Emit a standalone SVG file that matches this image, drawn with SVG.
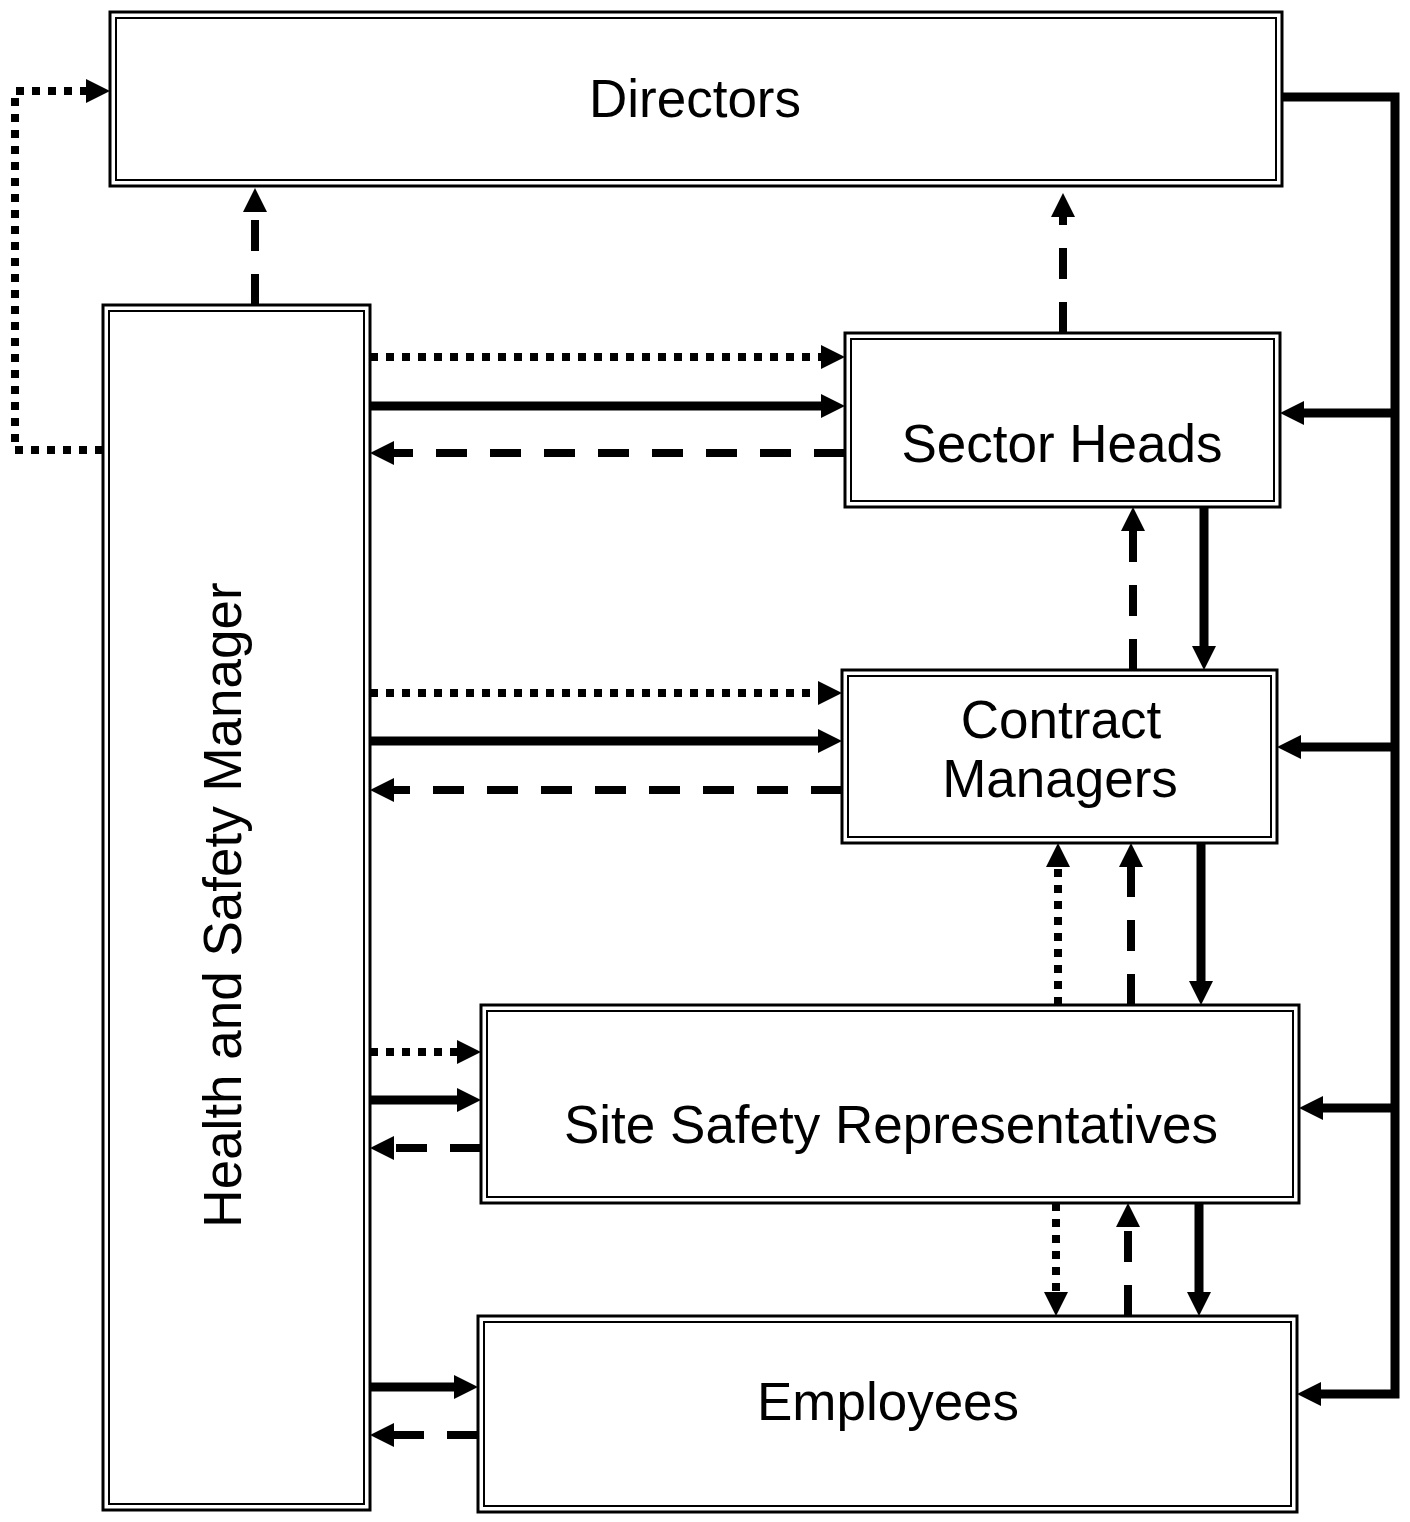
<svg xmlns="http://www.w3.org/2000/svg" width="1410" height="1522" viewBox="0 0 1410 1522">
<style>
.outer{fill:#fff;stroke:#000;stroke-width:3}
.inner{fill:none;stroke:#000;stroke-width:2}
.lbl{font-family:"Liberation Sans",Arial,sans-serif;font-size:53px;fill:#000;text-anchor:middle}
.c{fill:none;stroke:#000}
.solid{stroke-width:9}
.dash{stroke-width:8;stroke-dasharray:31 23}
.dot{stroke-width:8;stroke-dasharray:8 8}
</style>
<defs>
<marker id="ah" viewBox="0 0 24 24" refX="0" refY="12" markerWidth="24" markerHeight="24" markerUnits="userSpaceOnUse" orient="auto">
<path d="M0,0 L24,12 L0,24 Z" fill="#000"/>
</marker>
</defs>
<rect width="1410" height="1522" fill="#fff"/>
<g id="connectors">
<path class="c solid" stroke-linejoin="miter" d="M1282,97 H1395 V1394 H1321" marker-end="url(#ah)"/>
<path class="c solid" d="M1395,413 H1304" marker-end="url(#ah)"/>
<path class="c solid" d="M1395,747 H1301" marker-end="url(#ah)"/>
<path class="c solid" d="M1395,1108 H1323" marker-end="url(#ah)"/>
<path class="c dot" d="M103,450 H15 V91 H86" marker-end="url(#ah)"/>
<path class="c dash" d="M255,305 V212" marker-end="url(#ah)"/>
<path class="c dash" d="M1063,333 V217" marker-end="url(#ah)"/>
<path class="c dash" d="M1133,670 V531" marker-end="url(#ah)"/>
<path class="c solid" d="M1204,507 V646" marker-end="url(#ah)"/>
<path class="c dot" d="M1058,1005 V867" marker-end="url(#ah)"/>
<path class="c dash" d="M1131,1005 V867" marker-end="url(#ah)"/>
<path class="c solid" d="M1201,843 V981" marker-end="url(#ah)"/>
<path class="c dot" d="M1056,1203 V1292" marker-end="url(#ah)"/>
<path class="c dash" d="M1128,1316 V1227" marker-end="url(#ah)"/>
<path class="c solid" d="M1199,1203 V1292" marker-end="url(#ah)"/>
<path class="c dot" d="M370,357 H821" marker-end="url(#ah)"/>
<path class="c solid" d="M370,406 H821" marker-end="url(#ah)"/>
<path class="c dash" d="M845,453 H394" marker-end="url(#ah)"/>
<path class="c dot" d="M370,693 H818" marker-end="url(#ah)"/>
<path class="c solid" d="M370,741 H818" marker-end="url(#ah)"/>
<path class="c dash" d="M842,790 H394" marker-end="url(#ah)"/>
<path class="c dot" d="M370,1052 H457" marker-end="url(#ah)"/>
<path class="c solid" d="M370,1100 H457" marker-end="url(#ah)"/>
<path class="c dash" d="M481,1148 H394" marker-end="url(#ah)"/>
<path class="c solid" d="M370,1387 H454" marker-end="url(#ah)"/>
<path class="c dash" d="M478,1435 H394" marker-end="url(#ah)"/>
</g>
<g id="directors">
<rect class="outer" x="110" y="12" width="1172" height="174"/>
<rect class="inner" x="116" y="18" width="1160" height="162"/>
<text class="lbl" x="695" y="117">Directors</text>
</g>
<g id="hs-manager">
<rect class="outer" x="103" y="305" width="267" height="1205"/>
<rect class="inner" x="109" y="311" width="255" height="1193"/>
<text class="lbl" transform="translate(241,905) rotate(-90)" x="0" y="0">Health and Safety Manager</text>
</g>
<g id="sector-heads">
<rect class="outer" x="845" y="333" width="435" height="174"/>
<rect class="inner" x="851" y="339" width="423" height="162"/>
<text class="lbl" x="1062" y="462">Sector Heads</text>
</g>
<g id="contract-managers">
<rect class="outer" x="842" y="670" width="435" height="173"/>
<rect class="inner" x="848" y="676" width="423" height="161"/>
<text class="lbl" x="1061" y="738">Contract</text>
<text class="lbl" x="1060" y="797">Managers</text>
</g>
<g id="site-safety-reps">
<rect class="outer" x="481" y="1005" width="818" height="198"/>
<rect class="inner" x="487" y="1011" width="806" height="186"/>
<text class="lbl" x="891" y="1143">Site Safety Representatives</text>
</g>
<g id="employees">
<rect class="outer" x="478" y="1316" width="819" height="196"/>
<rect class="inner" x="484" y="1322" width="807" height="184"/>
<text class="lbl" x="888" y="1420">Employees</text>
</g>
</svg>
